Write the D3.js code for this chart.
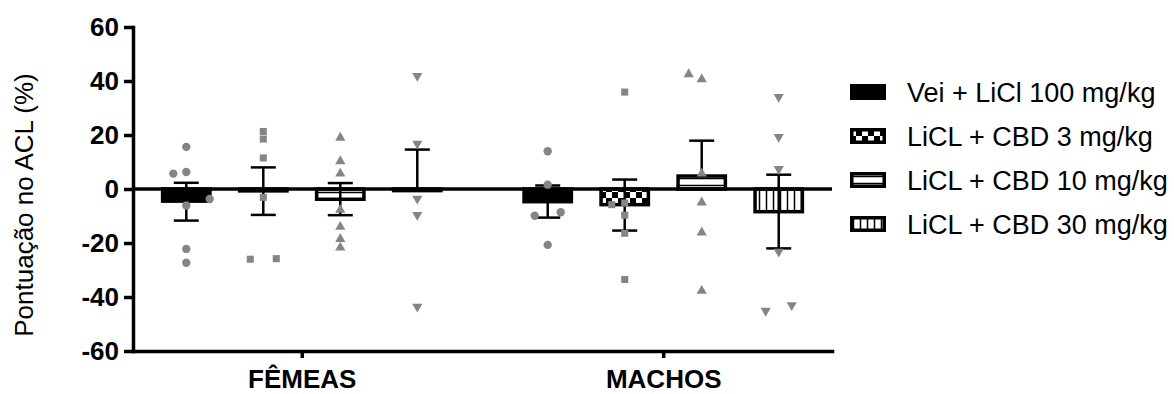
<!DOCTYPE html>
<html>
<head>
<meta charset="utf-8">
<script src="https://cdn.jsdelivr.net/npm/d3@7"></script>
<style>
  body { margin: 0; background: #fff; }
  text { font-family: "Liberation Sans", Arial, sans-serif; }
</style>
</head>
<body>
<svg id="chart" width="1174" height="394"></svg>
<script>
// grupos, tratamentos e ticks
const groups = ["FÊMEAS", "MACHOS"];
const treatments = ["Vei + LiCl 100 mg/kg", "LiCL + CBD 3 mg/kg", "LiCL + CBD 10 mg/kg", "LiCL + CBD 30 mg/kg"];
const yTicks = [-60, -40, -20, 0, 20, 40, 60];

// médias e EPM, na ordem dos tratamentos
const femMeans = [-4.5, -0.7, -3.8, -0.6];
const macMeans = [-4.7, -5.8, 4.8, -8.4];
const femSemUp = [6.8, 8.7, 6.0, 15.2];
const femSemDown = [7.2, 8.9, 5.9, 0];
const macSemUp = [6.0, 9.3, 13.1, 13.7];
const macSemDown = [5.9, 9.6, 0, 13.6];

// pontos individuais + coluna (deslocamento lateral) de cada ponto
const femVei = [15.6, 5.7, 6.3, -3.7, -6.1, -22.2, -27.3];
const femVeiCol = [0, -1, 0, 1.8, 0, 0, 0];
const femCbd3 = [21.3, 18.5, 11.5, -3.1, -26, -25.8];
const femCbd3Col = [0, 0, 0, 0, -1, 1];
const femCbd10 = [19, 10.3, 5.7, -7.7, -14, -18.5, -21.7];
const femCbd10Col = [0, 0, 0, 0, 0, 0, 0];
const femCbd30 = [41.9, 16.8, -3.6, -9.6, -43.6];
const femCbd30Col = [0, 0, 0, 0, 0];
const macVei = [14, 1.6, -9.9, -8.6, -20.7];
const macVeiCol = [0, 0, -1, 1, 0];
const macCbd3 = [35.9, -5.8, -5.2, -9.7, -16.4, -33.5];
const macCbd3Col = [0, -1, 0, 0, 0, 0];
const macCbd10 = [42.5, 40.6, 5.7, -5, -16.1, -37.7];
const macCbd10Col = [-1, 0, 0, 0, 0, 0];
const macCbd30 = [34.1, 19.3, 7.4, -23.2, -45.1, -43];
const macCbd30Col = [0, 0, 0, 0, -1, 1];

const width = 1174, height = 394;
const margin = {left: 133, right: 342, top: 27, bottom: 43};
const sw = 3.5;        // espessura das linhas
const colStep = 13;    // distância entre colunas de pontos
const ptColor = "#858585";
const fontFam = "Liberation Sans, Arial, sans-serif";

const svg = d3.select("#chart");

// padrões de preenchimento
const defs = svg.append("defs");
const checker = defs.append("pattern").attr("id", "p-checker")
    .attr("patternUnits", "userSpaceOnUse").attr("width", 12).attr("height", 12);
checker.append("rect").attr("width", 12).attr("height", 12).attr("fill", "#fff");
checker.append("rect").attr("width", 6).attr("height", 6).attr("fill", "#000");
checker.append("rect").attr("x", 6).attr("y", 6).attr("width", 6).attr("height", 6).attr("fill", "#000");

const hlines = defs.append("pattern").attr("id", "p-hlines")
    .attr("patternUnits", "userSpaceOnUse").attr("width", 10).attr("height", 7);
hlines.append("rect").attr("width", 10).attr("height", 7).attr("fill", "#fff");
hlines.append("line").attr("x1", 0).attr("x2", 10).attr("y1", 3.5).attr("y2", 3.5)
    .attr("stroke", "#000").attr("stroke-width", 1.5);

const vlines = defs.append("pattern").attr("id", "p-vlines")
    .attr("patternUnits", "userSpaceOnUse").attr("width", 7).attr("height", 10);
vlines.append("rect").attr("width", 7).attr("height", 10).attr("fill", "#fff");
vlines.append("line").attr("y1", 0).attr("y2", 10).attr("x1", 3.5).attr("x2", 3.5)
    .attr("stroke", "#000").attr("stroke-width", 1.5);

const fills = ["#000", "url(#p-checker)", "url(#p-hlines)", "url(#p-vlines)"];
const symbols = [d3.symbolCircle, d3.symbolSquare, d3.symbolTriangle, d3.symbolTriangle];
const rotations = [0, 0, 0, 180];

// escalas
const x = d3.scalePoint().domain(groups)
    .range([margin.left, width - margin.right]).padding(0.467);
const xt = d3.scaleBand().domain(treatments).range([-154, 154])
    .paddingInner(0.34).paddingOuter(0.17);
const y = d3.scaleLinear().domain([-60, 60]).range([height - margin.bottom, margin.top]);

// monta a tabela de barras
const rows = [];
const femPts = [femVei, femCbd3, femCbd10, femCbd30];
const femCols = [femVeiCol, femCbd3Col, femCbd10Col, femCbd30Col];
const macPts = [macVei, macCbd3, macCbd10, macCbd30];
const macCols = [macVeiCol, macCbd3Col, macCbd10Col, macCbd30Col];
treatments.forEach((t, i) => {
    rows.push({g: groups[0], t: t, i: i, mean: femMeans[i], up: femSemUp[i], down: femSemDown[i], pts: femPts[i], cols: femCols[i]});
    rows.push({g: groups[1], t: t, i: i, mean: macMeans[i], up: macSemUp[i], down: macSemDown[i], pts: macPts[i], cols: macCols[i]});
});
const cx = d => x(d.g) + xt(d.t) + xt.bandwidth() / 2;

// barras
svg.append("g").selectAll("rect").data(rows).enter().append("rect")
    .attr("x", d => x(d.g) + xt(d.t) + sw / 2)
    .attr("width", xt.bandwidth() - sw)
    .attr("y", d => Math.min(y(0), y(d.mean)))
    .attr("height", d => Math.abs(y(d.mean) - y(0)))
    .attr("fill", d => fills[d.i])
    .attr("stroke", "#000")
    .attr("stroke-width", sw);

// linha do zero
svg.append("line")
    .attr("x1", margin.left).attr("x2", width - margin.right)
    .attr("y1", y(0)).attr("y2", y(0))
    .attr("stroke", "#000").attr("stroke-width", sw);

// barras de erro
const err = svg.append("g").attr("stroke", "#000").attr("stroke-width", 2.5).attr("fill", "none");
rows.forEach(d => {
    const c = cx(d);
    if (d.up > 0) {
        err.append("line").attr("x1", c).attr("x2", c).attr("y1", y(d.mean)).attr("y2", y(d.mean + d.up));
        err.append("line").attr("x1", c - 12.5).attr("x2", c + 12.5).attr("y1", y(d.mean + d.up)).attr("y2", y(d.mean + d.up));
    }
    if (d.down > 0) {
        err.append("line").attr("x1", c).attr("x2", c).attr("y1", y(d.mean)).attr("y2", y(d.mean - d.down));
        err.append("line").attr("x1", c - 12.5).attr("x2", c + 12.5).attr("y1", y(d.mean - d.down)).attr("y2", y(d.mean - d.down));
    }
});

// pontos individuais
const pts = svg.append("g").attr("fill", ptColor);
rows.forEach(d => {
    const sym = d3.symbol().type(symbols[d.i]).size(d.i === 1 ? 50 : (d.i === 0 ? 55 : 45));
    d.pts.forEach((v, k) => {
        pts.append("path")
            .attr("d", sym)
            .attr("transform", `translate(${cx(d) + d.cols[k] * colStep},${y(v)}) rotate(${rotations[d.i]})`);
    });
});

// eixo y
const yAxis = svg.append("g")
    .attr("transform", `translate(${margin.left},0)`)
    .call(d3.axisLeft(y).tickValues(yTicks).tickFormat(d => String(d))
        .tickSize(9).tickSizeOuter(0).tickPadding(5));
yAxis.select(".domain").attr("stroke-width", sw).attr("stroke-linecap", "square");
yAxis.selectAll(".tick line").attr("stroke-width", sw);
yAxis.selectAll(".tick text").attr("font-size", 26).attr("font-weight", "bold")
    .attr("font-family", fontFam).attr("fill", "#000");

// eixo x
const xAxis = svg.append("g")
    .attr("transform", `translate(0,${y(-60)})`)
    .call(d3.axisBottom(x).tickSize(7).tickSizeOuter(0).tickPadding(12));
xAxis.select(".domain").attr("stroke-width", sw).attr("stroke-linecap", "square");
xAxis.selectAll(".tick line").attr("stroke-width", sw);
xAxis.selectAll(".tick text").attr("font-size", 26).attr("font-weight", "bold")
    .attr("font-family", fontFam).attr("fill", "#000");

// título do eixo y
svg.append("text")
    .attr("transform", `translate(33,205) rotate(-90)`)
    .attr("text-anchor", "middle")
    .attr("font-size", 26)
    .text("Pontuação no ACL (%)");

// legenda
const legend = svg.append("g").selectAll("g").data(treatments).enter().append("g")
    .attr("transform", (d, i) => `translate(850,${92 + i * 44})`);
legend.append("rect")
    .attr("x", sw / 2).attr("y", -8 + sw / 2)
    .attr("width", 36 - sw).attr("height", 16 - sw)
    .attr("fill", (d, i) => fills[i])
    .attr("stroke", "#000").attr("stroke-width", sw);
legend.append("text")
    .attr("x", 57).attr("y", 10)
    .attr("font-size", 27)
    .text(d => d);
</script>
</body>
</html>
